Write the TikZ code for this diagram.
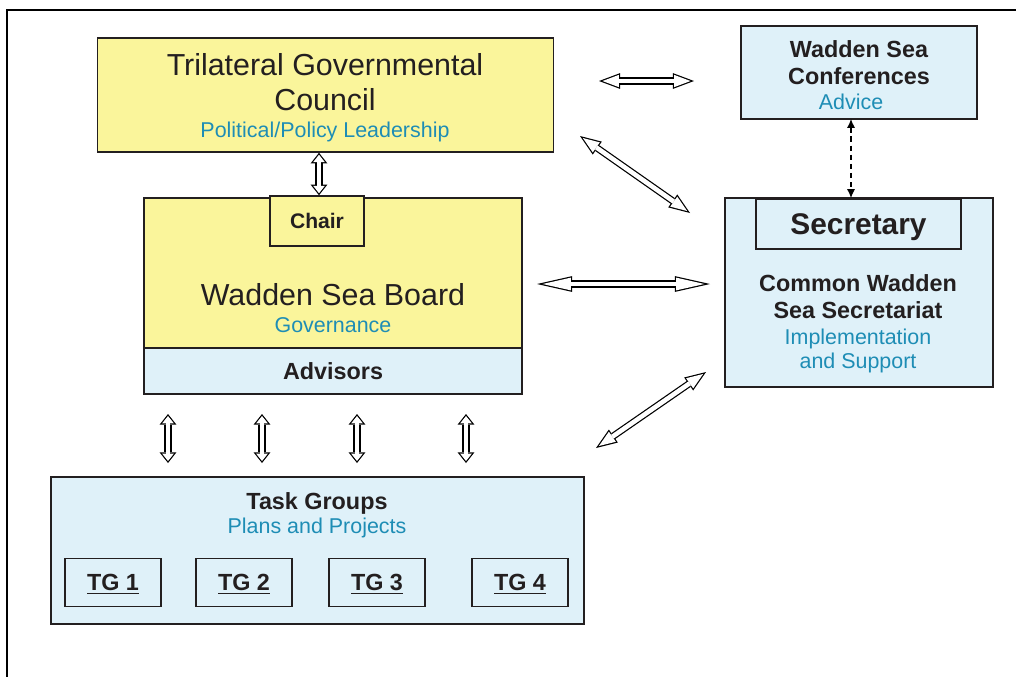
\documentclass[tikz,border=0pt]{standalone}
\usepackage{fontspec}
\setmainfont{Liberation Sans}
\usetikzlibrary{arrows.meta,positioning}

\definecolor{boardyellow}{HTML}{FAF59B}
\definecolor{paleblue}{HTML}{DFF1F9}
\definecolor{tealtext}{HTML}{1E8DB5}
\definecolor{inkgray}{HTML}{231F20}

\tikzset{
  box/.style={draw=inkgray, line width=0.9pt, inner sep=0pt, text=inkgray},
  ybox/.style={box, fill=boardyellow},
  bbox/.style={box, fill=paleblue},
  txt/.style={inner sep=0pt, text depth=0pt, text=inkgray},
  big/.style={txt, text height=12.4pt, font=\fontsize{17.3}{20}\selectfont},
  bold/.style={txt, text height=9.5pt, font=\fontsize{13.3}{16}\selectfont\bfseries},
  sub/.style={txt, text height=8.7pt, text=tealtext, font=\fontsize{12.2}{14}\selectfont},
  hollow/.style n args={5}{line width=4pt,
    {Triangle[length=#1,width=#2,line width=0pt]}-{Triangle[length=#1,width=#2,line width=0pt]},
    postaction={draw=white, line width=2.6pt, shorten <=#3, shorten >=#3,
      {Triangle[length=#4,width=#5,line width=0pt]}-{Triangle[length=#4,width=#5,line width=0pt]}}},
  shortarrow/.style={hollow={6pt}{9.5pt}{1.13pt}{4.17pt}{6.6pt}},
  midarrow/.style={hollow={12pt}{9pt}{1.99pt}{9.31pt}{6.98pt}},
  longarrow/.style={hollow={20pt}{9pt}{3.19pt}{16.11pt}{7.25pt}},
  advice/.style={dashed, dash pattern=on 3pt off 2.2pt, line width=0.6pt,
    {Latex[length=5pt,width=4.5pt]}-{Latex[length=5pt,width=4.5pt]}}
}

\begin{document}
\begin{tikzpicture}[x=0.02cm,y=-0.02cm]
\useasboundingbox (0,0) rectangle (1016,677);
\draw[line width=1pt] (1016,10) -- (7,10) -- (7,677);

% council
\node[ybox, minimum width=9.12cm, minimum height=2.28cm] (council) at (325.5,95) {};
\node[big] (councilA) at (325,65) {Trilateral Governmental};
\node[big] (councilB) at (325,99.5) {Council};
\node[sub] (councilC) at (325,130) {Political/Policy Leadership};

% conferences
\node[bbox, minimum width=4.72cm, minimum height=1.86cm] (wsc) at (859,72.5) {};
\node[bold] (wscA) at (859,49.5) {Wadden Sea};
\node[bold] (wscB) at (859,76) {Conferences};
\node[sub] (wscC) at (851,102) {Advice};

% board
\node[ybox, minimum width=7.56cm, minimum height=3cm] (board) at (333,273) {};
\node[bbox, bold, minimum width=7.56cm, minimum height=0.92cm] (advisors) at (333,371) {Advisors};
\node[ybox, txt, text height=8.6pt, font=\fontsize{12}{14}\selectfont\bfseries, minimum width=1.88cm, minimum height=1cm] (chair) at (317,221) {Chair};
\node[big] (boardA) at (333,295) {Wadden Sea Board};
\node[sub] (boardB) at (333,325) {Governance};

% secretariat
\node[bbox, minimum width=5.36cm, minimum height=3.78cm] (cwss) at (859,292.5) {};
\node[bbox, txt, text height=12.2pt, font=\fontsize{17}{20}\selectfont\bfseries, minimum width=4.1cm, minimum height=1cm] (secretary) at (858.5,224) {Secretary};
\node[bold] (cwssA) at (858,283) {Common Wadden};
\node[bold] (cwssB) at (858,310) {Sea Secretariat};
\node[sub] (cwssC) at (858,336.5) {Implementation};
\node[sub] (cwssD) at (858,361) {and Support};

% task groups
\node[bbox, minimum width=10.66cm, minimum height=2.94cm] (tasks) at (317.5,550.5) {};
\node[bold] (tasksA) at (317,501) {Task Groups};
\node[sub] (tasksB) at (317,526) {Plans and Projects};
\foreach \i/\x in {1/113,2/244,3/377,4/520}
  \node[bbox, bold, minimum width=1.92cm, minimum height=0.96cm] (tg\i) at (\x,582.5) {\underline{TG \i}};

% arrows
\coordinate (confL) at (599,81);
\coordinate (confR) at (694,81);
\coordinate (cornerA) at (580,136);
\coordinate (cornerB) at (690,213);
\coordinate (midL) at (537,284);
\coordinate (midR) at (710,284);
\coordinate (lowA) at (596,448);
\coordinate (lowB) at (706,372);
\coordinate (adviceTop) at (851,119);
\coordinate (adviceBot) at (851,198);

\draw[midarrow] (confL) -- (confR);
\draw[midarrow] (cornerA) -- (cornerB);
\draw[longarrow] (midL) -- (midR);
\draw[midarrow] (lowA) -- (lowB);
\draw[shortarrow] (chair.north -| 319,0) -- (council.south -| 319,0);
\draw[advice] (adviceTop) -- (adviceBot);
\foreach \x [count=\k] in {168,262,357,466} {
  \coordinate (up\k) at (\x,414);
  \coordinate (dn\k) at (\x,463);
  \draw[shortarrow] (up\k) -- (dn\k);
}
\end{tikzpicture}
\end{document}
